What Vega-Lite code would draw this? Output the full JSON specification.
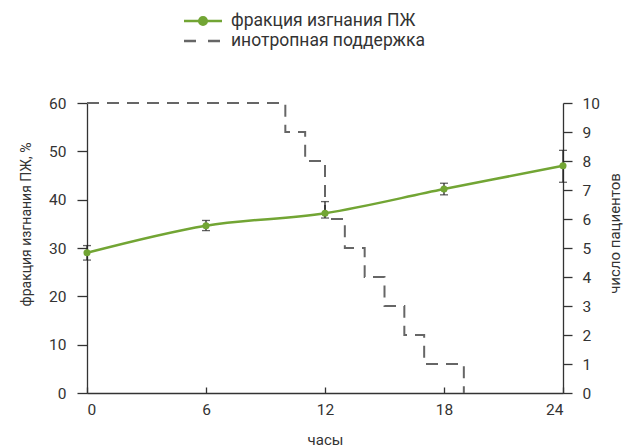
{
  "$schema": "https://vega.github.io/schema/vega-lite/v6.json",
  "width": 476,
  "height": 290,
  "autosize": {"type": "none"},
  "padding": {"left": 87, "top": 103, "right": 64, "bottom": 55},
  "background": "white",
  "config": {
    "view": {"stroke": null},
    "font": "Roboto",
    "axis": {
      "grid": false,
      "domainColor": "#333333",
      "domainWidth": 1.3,
      "tickColor": "#333333",
      "tickWidth": 1.3,
      "labelColor": "#333333",
      "titleColor": "#333333",
      "labelFont": "Roboto",
      "titleFont": "Roboto",
      "labelFontSize": 15.5,
      "titleFontSize": 15,
      "titleFontWeight": "normal"
    }
  },
  "datasets": {
    "ef": [
      {"h": 0, "ef": 29.0, "lo": 27.5, "hi": 30.5, "series": "фракция изгнания ПЖ"},
      {"h": 6, "ef": 34.6, "lo": 33.6, "hi": 35.7, "series": "фракция изгнания ПЖ"},
      {"h": 12, "ef": 37.2, "lo": 36.2, "hi": 39.6, "series": "фракция изгнания ПЖ"},
      {"h": 18, "ef": 42.2, "lo": 41.0, "hi": 43.4, "series": "фракция изгнания ПЖ"},
      {"h": 24, "ef": 47.0, "lo": 43.6, "hi": 50.2, "series": "фракция изгнания ПЖ"}
    ],
    "ino": [
      {"h": 0, "n": 10, "series": "инотропная поддержка"},
      {"h": 10, "n": 9, "series": "инотропная поддержка"},
      {"h": 11, "n": 8, "series": "инотропная поддержка"},
      {"h": 12, "n": 6, "series": "инотропная поддержка"},
      {"h": 13, "n": 5, "series": "инотропная поддержка"},
      {"h": 14, "n": 4, "series": "инотропная поддержка"},
      {"h": 15, "n": 3, "series": "инотропная поддержка"},
      {"h": 16, "n": 2, "series": "инотропная поддержка"},
      {"h": 17, "n": 1, "series": "инотропная поддержка"},
      {"h": 19, "n": 0, "series": "инотропная поддержка"}
    ]
  },
  "layer": [
    {
      "data": {"name": "ino"},
      "mark": {"type": "line", "interpolate": "step-after", "strokeDash": [12, 8], "strokeWidth": 2, "clip": false},
      "encoding": {
        "x": {"field": "h", "type": "quantitative", "scale": {"domain": [0, 24]}, "title": "часы",
          "axis": {"values": [0, 6, 12, 18, 24], "tickSize": -6, "labelPadding": 15, "titleY": 51, "titleBaseline": "alphabetic"}},
        "y": {"field": "n", "type": "quantitative", "scale": {"domain": [0, 10]}, "title": "число пациентов",
          "axis": {"orient": "right", "values": [0,1,2,3,4,5,6,7,8,9,10], "tickSize": 9, "labelPadding": 10, "titleAngle": -90, "titleX": 56, "titleY": 130, "titleAlign": "center", "titleBaseline": "alphabetic"}},
        "color": {"field": "series", "type": "nominal",
          "scale": {"domain": ["фракция изгнания ПЖ", "инотропная поддержка"], "range": ["#72a534", "#666666"]},
          "legend": {
            "orient": "none", "legendX": 105, "legendY": -93, "title": null, "direction": "vertical",
            "symbolType": "M-2,0H2", "symbolSize": 361, "symbolStrokeWidth": 2.5,
            "labelOffset": 17, "labelFontSize": 17.5, "labelColor": "#333333", "labelFont": "Roboto", "labelLimit": 400,
            "rowPadding": -1.5, "padding": 0,
            "encode": {
              "symbols": {
                "update": {
                  "shape": {"signal": "datum.value === 'инотропная поддержка' ? 'M-2,0H2' : 'M-2,0H2M-0.4,0A0.4,0.4,0,1,0,0.4,0A0.4,0.4,0,1,0,-0.4,0Z'"},
                  "strokeDash": {"signal": "datum.value === 'инотропная поддержка' ? [12, 12] : []"},
                  "fill": {"signal": "datum.value === 'инотропная поддержка' ? 'transparent' : '#72a534'"},
                  "opacity": {"value": 1}
                }
              }
            }
          }}
      }
    },
    {
      "data": {"name": "ef"},
      "layer": [
        {
          "mark": {"type": "line", "interpolate": "cardinal", "strokeWidth": 2.5},
          "encoding": {
            "x": {"field": "h", "type": "quantitative"},
            "y": {"field": "ef", "type": "quantitative", "scale": {"domain": [0, 60]}, "title": "фракция изгнания ПЖ, %",
              "axis": {"orient": "left", "values": [0,10,20,30,40,50,60], "tickSize": 10, "labelPadding": 11, "titleAngle": -90, "titleX": -57, "titleY": 121, "titleAlign": "center", "titleBaseline": "alphabetic", "titleFontSize": 14}},
            "color": {"field": "series", "type": "nominal"}
          }
        },
        {
          "mark": {"type": "errorbar", "ticks": {"size": 8, "thickness": 1.3}, "color": "#222222", "thickness": 1.3},
          "encoding": {
            "x": {"field": "h", "type": "quantitative"},
            "y": {"field": "lo", "type": "quantitative", "title": "фракция изгнания ПЖ, %"},
            "y2": {"field": "hi"}
          }
        },
        {
          "mark": {"type": "point", "filled": true, "opacity": 1, "size": 50},
          "encoding": {
            "x": {"field": "h", "type": "quantitative"},
            "y": {"field": "ef", "type": "quantitative", "title": "фракция изгнания ПЖ, %"},
            "color": {"field": "series", "type": "nominal"}
          }
        }
      ]
    }
  ],
  "resolve": {"scale": {"y": "independent"}}
}
